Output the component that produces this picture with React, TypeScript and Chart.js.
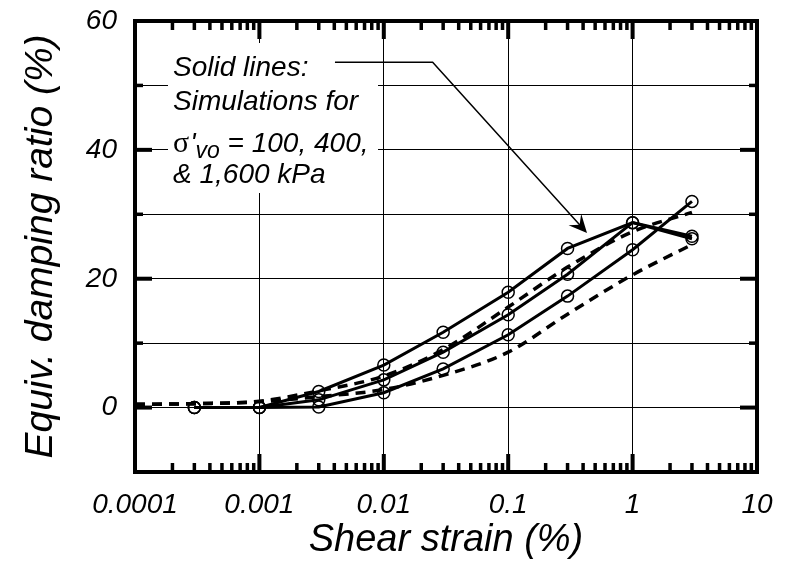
import React, { useEffect, useRef } from 'react';
import { Chart, registerables } from 'chart.js';

Chart.register(...registerables);

// ---- tick labels ----
const xTickValues = [0.0001, 0.001, 0.01, 0.1, 1, 10];
const xTickLabels = ['0.0001', '0.001', '0.01', '0.1', '1', '10'];
const yLabelledValues = [0, 20, 40, 60];

// ---- simulations (solid lines with circles) ----
const simStrain = [0.0003, 0.001, 0.003, 0.01, 0.03, 0.1, 0.3, 1, 3];
const sim100 = [0, 0, 2.5, 6.6, 11.7, 17.9, 24.7, 28.7, 26.6];
const sim400 = [0, 0, 1.2, 4.3, 8.6, 14.4, 20.7, 28.7, 26.2];
const sim1600 = [0, 0, 0.1, 2.3, 6.0, 11.3, 17.3, 24.5, 32.0];

// ---- reference curves (dashed) ----
const refStrain = [0.0001, 0.0003, 0.001, 0.003, 0.01, 0.03, 0.1, 0.3, 1, 3];
const refUpper = [0.5, 0.6, 1.0, 2.6, 4.9, 9.0, 15.6, 21.8, 27.3, 30.3];
const refLower = [0.5, 0.6, 0.9, 1.7, 2.8, 5.0, 8.6, 14.5, 20.6, 25.3];

// ---- annotation text ----
const noteLine1 = 'Solid lines:';
const noteLine2 = 'Simulations for';
const noteSigma = 'σ';
const notePrime = "'";
const noteSub = 'vo';
const noteLine3 = ' = 100, 400,';
const noteLine4 = '& 1,600 kPa';

const SANS = '"Liberation Sans", Arial, sans-serif';
const SERIF = '"Liberation Serif", "Times New Roman", serif';

const toXY = (xs: number[], ys: number[]) => xs.map((x, i) => ({ x, y: ys[i] }));

const framePlugin = {
  id: 'framePlugin',
  beforeDatasetsDraw(chart: any) {
    const { ctx, chartArea } = chart;
    const { left, top } = chartArea;
    ctx.save();
    ctx.fillStyle = '#fff';
    // white box behind annotation text
    ctx.fillRect(left + 33, top + 22, 210, 150);
    ctx.restore();
  },
  afterDatasetsDraw(chart: any) {
    const { ctx, chartArea, scales } = chart;
    const { left, right, top, bottom } = chartArea;
    const xs = scales.x;
    const ys = scales.y;
    ctx.save();
    ctx.fillStyle = '#000';
    ctx.strokeStyle = '#000';

    // x ticks (inward, bottom and top)
    const decades = [0.0001, 0.001, 0.01, 0.1, 1];
    decades.forEach((d) => {
      for (let m = 2; m <= 9; m++) {
        const px = xs.getPixelForValue(m * d);
        ctx.fillRect(px - 1.75, bottom - 9, 3.5, 9);
        ctx.fillRect(px - 1.75, top, 3.5, 9);
      }
    });
    [0.001, 0.01, 0.1, 1].forEach((d) => {
      const px = xs.getPixelForValue(d);
      ctx.fillRect(px - 2, bottom - 18, 4, 18);
      ctx.fillRect(px - 2, top, 4, 18);
    });
    // y ticks (inward, left and right)
    for (let v = 0; v <= 50; v += 10) {
      const py = ys.getPixelForValue(v);
      const major = v % 20 === 0;
      const len = major ? 17 : 8;
      const w = major ? 4 : 3.5;
      ctx.fillRect(left, py - w / 2, len, w);
      ctx.fillRect(right - len, py - w / 2, len, w);
    }

    // frame
    ctx.lineWidth = 4;
    ctx.strokeRect(left, top, right - left, bottom - top);

    // annotation text
    const tx = left + 38;
    ctx.textBaseline = 'alphabetic';
    ctx.textAlign = 'left';
    ctx.font = `italic 28px ${SANS}`;
    ctx.fillText(noteLine1, tx, top + 55);
    ctx.fillText(noteLine2, tx, top + 89);
    let cx = tx;
    const base3 = top + 131;
    ctx.font = `normal 30px ${SERIF}`;
    ctx.fillText(noteSigma, cx, base3);
    cx += ctx.measureText(noteSigma).width + 1;
    ctx.font = `italic 28px ${SANS}`;
    ctx.fillText(notePrime, cx, base3);
    cx += ctx.measureText(notePrime).width;
    ctx.font = `italic 23px ${SANS}`;
    ctx.fillText(noteSub, cx, base3 + 6);
    cx += ctx.measureText(noteSub).width;
    ctx.font = `italic 28px ${SANS}`;
    ctx.fillText(noteLine3, cx, base3);
    ctx.fillText(noteLine4, tx, top + 162);

    // arrow
    const sx = xs.getPixelForValue(0.00405);
    const sy = ys.getPixelForValue(53.6);
    const bx = xs.getPixelForValue(0.0247);
    const by = sy;
    const ex = xs.getPixelForValue(0.43);
    const ey = ys.getPixelForValue(27.1);
    ctx.lineWidth = 1.5;
    ctx.beginPath();
    ctx.moveTo(sx, sy);
    ctx.lineTo(bx, by);
    ctx.lineTo(ex - 4, ey - 4.4);
    ctx.stroke();
    const ang = Math.atan2(ey - by, ex - bx);
    const back = ang + Math.PI;
    const hl = 20;
    const spread = 0.44;
    const p1x = ex + hl * Math.cos(back + spread);
    const p1y = ey + hl * Math.sin(back + spread);
    const p2x = ex + hl * Math.cos(back - spread);
    const p2y = ey + hl * Math.sin(back - spread);
    const nx = ex + 11 * Math.cos(back);
    const ny = ey + 11 * Math.sin(back);
    ctx.beginPath();
    ctx.moveTo(ex, ey);
    ctx.lineTo(p1x, p1y);
    ctx.lineTo(nx, ny);
    ctx.lineTo(p2x, p2y);
    ctx.closePath();
    ctx.fill();
    ctx.restore();
  },
};

export default function App() {
  const canvasRef = useRef<HTMLCanvasElement | null>(null);

  useEffect(() => {
    const canvas = canvasRef.current;
    if (!canvas) return;
    const solid = (data: number[]) => ({
      data: toXY(simStrain, data),
      borderColor: '#000',
      borderWidth: 3,
      pointRadius: 6,
      pointBorderWidth: 1.5,
      pointBorderColor: '#000',
      pointBackgroundColor: 'rgba(0,0,0,0)',
      tension: 0,
      fill: false,
    });
    const dashed = (data: number[]) => ({
      data: toXY(refStrain, data),
      borderColor: '#000',
      borderWidth: 3.5,
      borderDash: [10, 7],
      pointRadius: 0,
      cubicInterpolationMode: 'monotone',
      fill: false,
    });
    const chart = new Chart(canvas, {
      type: 'line',
      data: {
        datasets: [
          { label: '100 kPa', ...solid(sim100) },
          { label: '400 kPa', ...solid(sim400) },
          { label: '1600 kPa', ...solid(sim1600) },
          { label: 'ref upper', ...dashed(refUpper) },
          { label: 'ref lower', ...dashed(refLower) },
        ] as any,
      },
      options: {
        animation: false,
        responsive: false,
        layout: { padding: { top: 21, right: 28, left: 0, bottom: 0 } },
        plugins: { legend: { display: false }, tooltip: { enabled: false } },
        scales: {
          x: {
            type: 'logarithmic',
            min: 0.0001,
            max: 10,
            afterBuildTicks: (s: any) => {
              s.ticks = xTickValues.map((v) => ({ value: v, major: true }));
            },
            afterFit: (s: any) => {
              s.height = 90;
              s.paddingLeft = 0;
              s.paddingRight = 0;
            },
            grid: { color: '#000', lineWidth: 1, drawTicks: false },
            border: { display: false },
            ticks: {
              autoSkip: false,
              maxRotation: 0,
              padding: 16,
              color: '#000',
              font: { family: SANS, style: 'italic', size: 28 },
              callback: (_v: any, i: number) => xTickLabels[i],
            },
            title: {
              display: true,
              text: 'Shear strain (%)',
              color: '#000',
              font: { family: SANS, style: 'italic', size: 38, lineHeight: 1 },
              padding: { top: 0, bottom: 3 },
            },
          },
          y: {
            type: 'linear',
            min: -10,
            max: 60,
            afterFit: (s: any) => {
              s.width = 135;
              s.paddingTop = 0;
              s.paddingBottom = 0;
            },
            grid: { color: '#000', lineWidth: 1, drawTicks: false },
            border: { display: false },
            ticks: {
              stepSize: 10,
              padding: 18,
              color: '#000',
              font: { family: SANS, style: 'italic', size: 28 },
              callback: (v: any) => (yLabelledValues.includes(Number(v)) ? String(v) : ''),
            },
            title: {
              display: true,
              text: 'Equiv. damping ratio (%)',
              color: '#000',
              font: { family: SANS, style: 'italic', size: 39, lineHeight: 1 },
              padding: { top: 22, bottom: 0 },
            },
          },
        },
      } as any,
      plugins: [framePlugin],
    });
    return () => chart.destroy();
  }, []);

  return (
    <div style={{ position: 'fixed', left: 0, top: 0, width: 785, height: 562, background: '#fff' }}>
      <canvas ref={canvasRef} width={785} height={562} style={{ display: 'block' }} />
    </div>
  );
}
